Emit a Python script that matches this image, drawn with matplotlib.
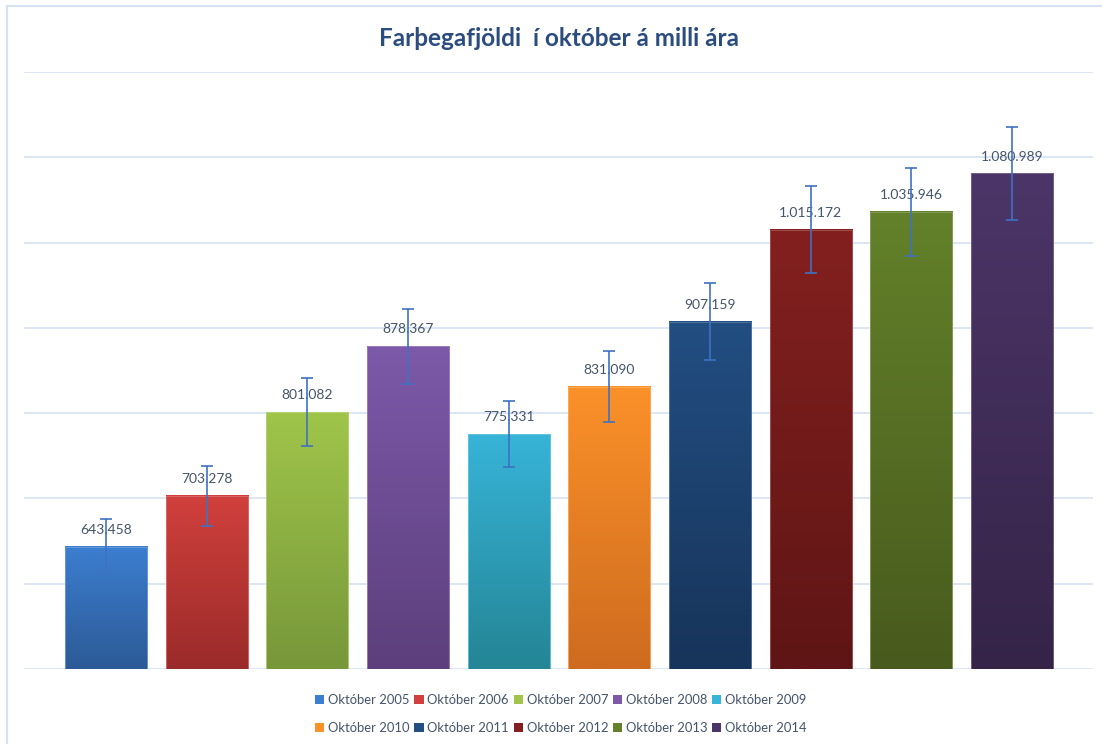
import numpy as np
import matplotlib
matplotlib.use("Agg")
import matplotlib.pyplot as plt
from matplotlib.colors import to_rgb
from matplotlib.patches import Patch
from matplotlib.lines import Line2D

plt.rcParams['font.family'] = ['Lato', 'DejaVu Sans']

# Passenger counts in October, by year
years = ["Október 2005", "Október 2006", "Október 2007", "Október 2008", "Október 2009",
         "Október 2010", "Október 2011", "Október 2012", "Október 2013", "Október 2014"]
passengers = [643458, 703278, 801082, 878367, 775331,
              831090, 907159, 1015172, 1035946, 1080989]
error_pct = 0.05

# top / bottom colours of each bar's vertical gradient
top_colors = ["#3C7ED0", "#D1403C", "#A0C54A", "#7D59A9", "#37B4D8",
              "#FB9129", "#224E82", "#83201F", "#63812A", "#4C3568"]
bottom_colors = ["#2C5A96", "#9A2B2A", "#77973A", "#5C3F7C", "#248595",
                 "#CE6B1F", "#17345A", "#5F1515", "#485A1D", "#352448"]

title = "Farþegafjöldi  í október á milli ára"
text_color = "#44546A"
grid_color = "#D9E4F3"
err_color = "#3E72C2"

fig = plt.figure(figsize=(11.02, 7.44), dpi=100)
ax = fig.add_axes([24 / 1102, 75 / 744, 1069 / 1102, 597 / 744])

y_min, y_max, y_step = 500000, 1200000, 100000
bar_w = 0.815
x = np.arange(len(passengers))

for xi, v, ct, cb in zip(x, passengers, top_colors, bottom_colors):
    t = np.array(to_rgb(ct))
    b = np.array(to_rgb(cb))
    frac = np.linspace(0, 1, 256)[:, None]
    grad = (t * (1 - frac) + b * frac)[:, None, :]
    ax.imshow(grad, extent=[xi - bar_w / 2, xi + bar_w / 2, y_min, v],
              aspect='auto', origin='upper', zorder=2, interpolation='bilinear')
    edge = t * 0.75 + 0.25
    ax.bar(xi, v - y_min, bottom=y_min, width=bar_w, facecolor='none',
           edgecolor=edge, linewidth=0.6, zorder=3)

errs = [v * error_pct for v in passengers]
ax.errorbar(x, passengers, yerr=errs, fmt='none', ecolor=err_color,
            elinewidth=1.2, capsize=4.3, capthick=1.2, zorder=5)

for xi, v in zip(x, passengers):
    ax.annotate(f"{v:,}".replace(",", "."), (xi, v), xytext=(0, 12.2),
                textcoords='offset points', ha='center', va='center',
                fontsize=10, color=text_color, zorder=4)

ax.set_xlim(-0.8146, 9.805)
ax.set_ylim(y_min, y_max)
ax.set_yticks(np.arange(y_min, y_max + 1, y_step))
ax.yaxis.grid(True, color=grid_color, linewidth=1.3)
ax.set_axisbelow(True)
ax.tick_params(left=False, bottom=False, labelleft=False, labelbottom=False)
for s in ax.spines.values():
    s.set_visible(False)

fig.text(559 / 1102, 1 - 39 / 744, title, ha='center', va='center', fontsize=17.5,
         fontweight='bold', color="#2B4C7E")

# chart frame (left and top edges)
fig.add_artist(Line2D([7 / 1102, 7 / 1102], [0, 1 - 6 / 744], color="#D5E2F3",
                      linewidth=1.5, transform=fig.transFigure))
fig.add_artist(Line2D([7 / 1102, 1], [1 - 6 / 744, 1 - 6 / 744], color="#D5E2F3",
                      linewidth=1.5, transform=fig.transFigure))

handles = [Patch(facecolor=c, edgecolor='none') for c in top_colors]
order = [0, 5, 1, 6, 2, 7, 3, 8, 4, 9]
leg = fig.legend([handles[i] for i in order], [years[i] for i in order],
                 loc='center', bbox_to_anchor=(561 / 1102, 1 - 714 / 744), ncol=5,
                 frameon=False, fontsize=9.4, handlelength=0.7, handleheight=0.7,
                 handletextpad=0.3, columnspacing=0.35, labelspacing=1.25,
                 labelcolor=text_color)

fig.savefig("out.png", dpi=100)
